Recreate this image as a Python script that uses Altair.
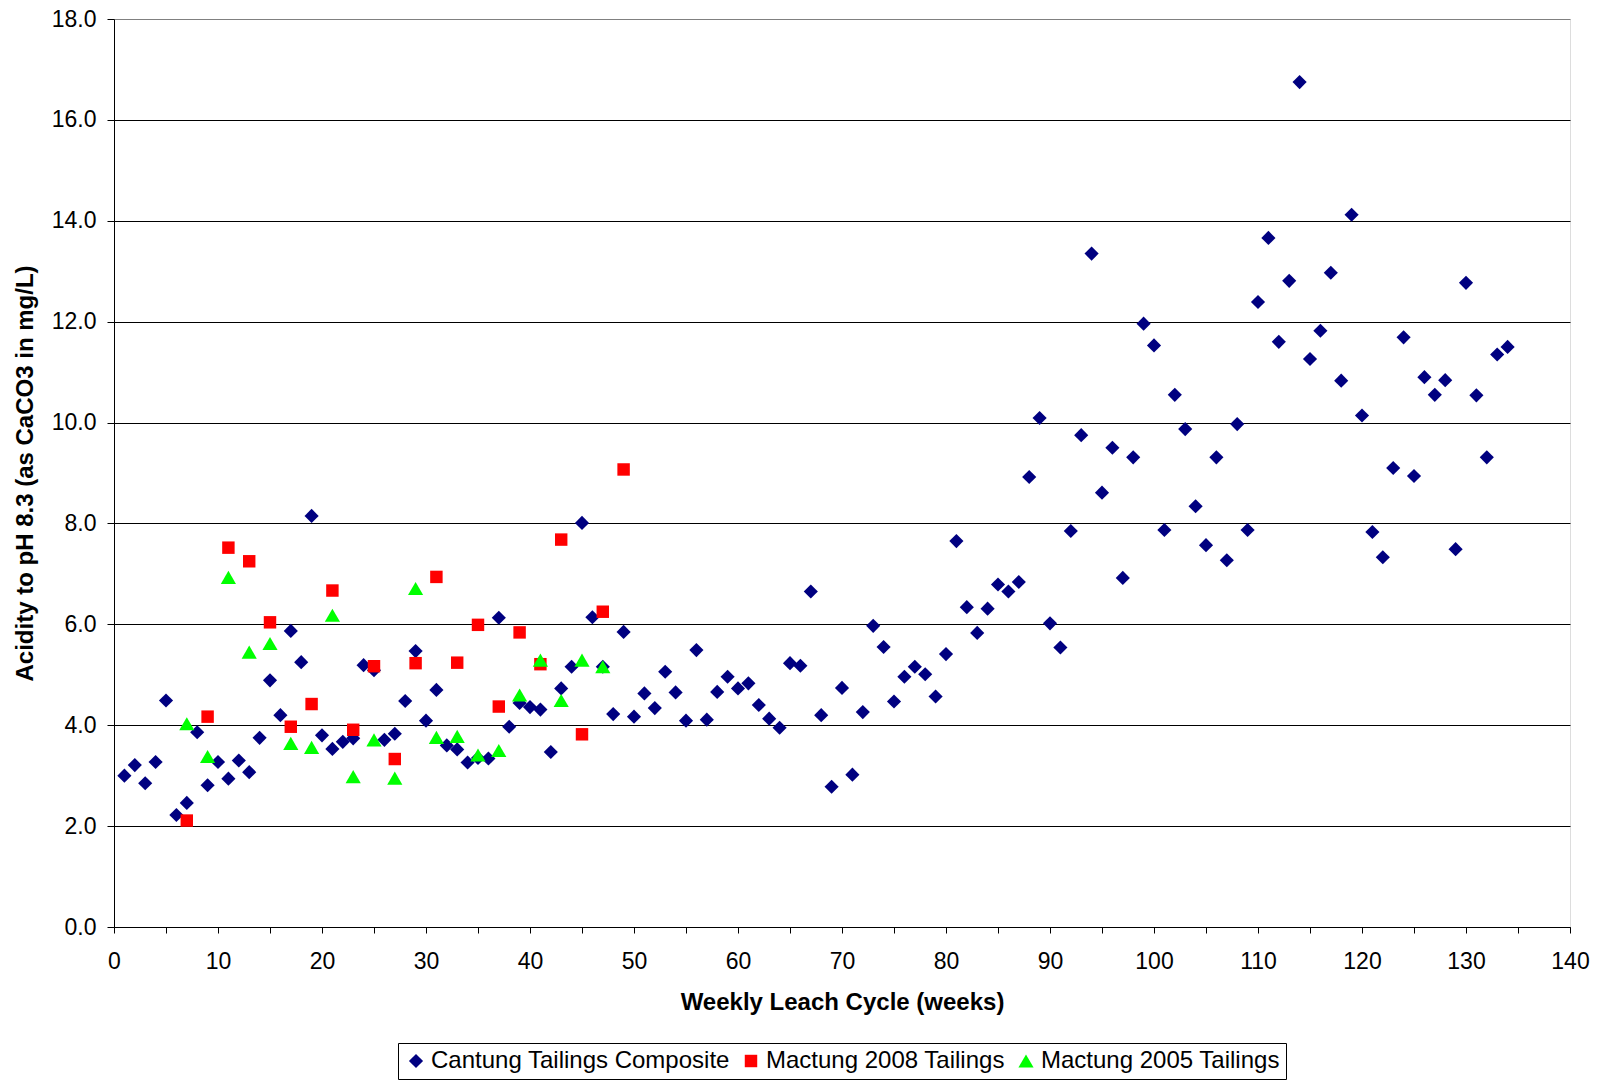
import altair as alt
import pandas as pd

# ---- data ----
cantung_weeks = [
    1, 2, 3, 4, 5, 6, 7, 8, 9, 10, 11, 12, 13, 14, 15, 16, 17, 18, 19, 20,
    21, 22, 23, 24, 25, 26, 27, 28, 29, 30, 31, 32, 33, 34, 35, 36, 37, 38, 39, 40,
    41, 42, 43, 44, 45, 46, 47, 48, 49, 50, 51, 52, 53, 54, 55, 56, 57, 58, 59, 60,
    61, 62, 63, 64, 65, 66, 67, 68, 69, 70, 71, 72, 73, 74, 75, 76, 77, 78, 79, 80,
    81, 82, 83, 84, 85, 86, 87, 88, 89, 90, 91, 92, 93, 94, 95, 96, 97, 98, 99, 100,
    101, 102, 103, 104, 105, 106, 107, 108, 109, 110, 111, 112, 113, 114, 115, 116, 117, 118, 119, 120,
    121, 122, 123, 124, 125, 126, 127, 128, 129, 130, 131, 132, 133, 134,
]
cantung_vals = [
    3.00, 3.21, 2.85, 3.27, 4.49, 2.22, 2.46, 3.86, 2.81, 3.27,
    2.94, 3.30, 3.07, 3.75, 4.89, 4.20, 5.87, 5.25, 8.15, 3.80,
    3.53, 3.67, 3.74, 5.19, 5.09, 3.71, 3.83, 4.48, 5.47, 4.09,
    4.70, 3.60, 3.52, 3.26, 3.35, 3.34, 6.13, 3.97, 4.44, 4.36,
    4.31, 3.47, 4.73, 5.16, 8.01, 6.14, 5.16, 4.22, 5.85, 4.17,
    4.63, 4.34, 5.06, 4.65, 4.09, 5.49, 4.11, 4.66, 4.96, 4.73,
    4.83, 4.40, 4.13, 3.95, 5.23, 5.18, 6.65, 4.20, 2.78, 4.74,
    3.02, 4.26, 5.97, 5.55, 4.47, 4.96, 5.16, 5.01, 4.57, 5.41,
    7.65, 6.34, 5.83, 6.31, 6.79, 6.65, 6.84, 8.92, 10.09, 6.02,
    5.54, 7.85, 9.75, 13.35, 8.61, 9.50, 6.92, 9.31, 11.96, 11.53,
    7.87, 10.55, 9.87, 8.34, 7.57, 9.31, 7.27, 9.97, 7.87, 12.39,
    13.66, 11.60, 12.81, 16.75, 11.26, 11.82, 12.97, 10.83, 14.12, 10.14,
    7.83, 7.33, 9.10, 11.69, 8.94, 10.90, 10.55, 10.84, 7.49, 12.77,
    10.54, 9.31, 11.35, 11.50,
]

mac2008_weeks = [7, 9, 11, 13, 15, 17, 19, 21, 23, 25, 27, 29, 31, 33, 35, 37, 39, 41, 43, 45, 47, 49]
mac2008_vals = [2.11, 4.17, 7.52, 7.25, 6.04, 3.97, 4.42, 6.67, 3.91, 5.17, 3.33,
                5.23, 6.94, 5.24, 5.99, 4.37, 5.84, 5.21, 7.68, 3.82, 6.25, 9.07]

mac2005_weeks = [7, 9, 11, 13, 15, 17, 19, 21, 23, 25, 27, 29, 31, 33, 35, 37, 39, 41, 43, 45, 47]
mac2005_vals = [4.03, 3.38, 6.93, 5.45, 5.62, 3.64, 3.56, 6.18, 2.98, 3.71, 2.95,
                6.71, 3.76, 3.78, 3.41, 3.50, 4.60, 5.29, 4.49, 5.29, 5.16]

series_names = ["Cantung Tailings Composite", "Mactung 2008 Tailings", "Mactung 2005 Tailings"]
series_colors = ["#000080", "#FF0000", "#00FF00"]
series_shapes = ["diamond", "square", "triangle-up"]
series_sizes = [200, 155, 230]

x_ticks = [0, 5, 10, 15, 20, 25, 30, 35, 40, 45, 50, 55, 60, 65, 70, 75, 80, 85, 90,
           95, 100, 105, 110, 115, 120, 125, 130, 135, 140]
y_ticks = [0, 2, 4, 6, 8, 10, 12, 14, 16, 18]

rows = []
for w, v in zip(cantung_weeks, cantung_vals):
    rows.append({"week": w, "value": v, "series": series_names[0], "order": 0})
for w, v in zip(mac2008_weeks, mac2008_vals):
    rows.append({"week": w, "value": v, "series": series_names[1], "order": 1})
for w, v in zip(mac2005_weeks, mac2005_vals):
    rows.append({"week": w, "value": v, "series": series_names[2], "order": 2})
df = pd.DataFrame(rows)

FONT = "Liberation Sans"

legend = alt.Legend(
    title=None,
    orient="none",
    legendX=284,
    legendY=1024,
    direction="horizontal",
    strokeColor="black",
    fillColor="white",
    padding=6,
    labelFontSize=24,
    labelFont=FONT,
    labelColor="black",
    labelLimit=600,
    symbolSize=110,
    labelOffset=3,
    columnPadding=9,
    symbolStrokeWidth=0,
)

chart = (
    alt.Chart(df)
    .mark_point(filled=True, opacity=1, strokeWidth=0)
    .encode(
        x=alt.X(
            "week:Q",
            scale=alt.Scale(domain=[0, 140], nice=False, zero=True),
            axis=alt.Axis(
                title="Weekly Leach Cycle (weeks)",
                values=x_ticks,
                labelExpr="datum.value % 10 == 0 ? datum.label : ''",
                grid=False,
                tickSize=6,
                tickColor="black",
                domainColor="black",
                labelFontSize=23,
                labelPadding=17,
                labelColor="black",
                labelFont=FONT,
                titleFont=FONT,
                titleFontSize=24,
                titleFontWeight="bold",
                titleColor="black",
                titleY=75,
                titleBaseline="middle",
                labelFlush=False,
                labelOverlap=False,
            ),
        ),
        y=alt.Y(
            "value:Q",
            scale=alt.Scale(domain=[0, 18], nice=False, zero=True),
            axis=alt.Axis(
                title="Acidity to pH 8.3 (as CaCO3 in mg/L)",
                values=y_ticks,
                format=".1f",
                grid=True,
                gridColor=alt.condition("datum.value == 18", alt.value("#808080"), alt.value("black")),
                gridWidth=1,
                gridOpacity=1,
                tickSize=7,
                tickColor="black",
                domainColor="black",
                labelFontSize=23,
                labelPadding=11,
                labelColor="black",
                labelFont=FONT,
                titleFont=FONT,
                titleFontSize=24,
                titleFontWeight="bold",
                titleColor="black",
                titleAngle=270,
                titleX=-89,
                titleY=454,
                titleAlign="center",
                titleBaseline="middle",
                labelFlush=False,
                labelOverlap=False,
            ),
        ),
        color=alt.Color(
            "series:N",
            scale=alt.Scale(domain=series_names, range=series_colors),
            legend=legend,
        ),
        shape=alt.Shape(
            "series:N",
            scale=alt.Scale(domain=series_names, range=series_shapes),
            legend=legend,
        ),
        size=alt.Size(
            "series:N",
            scale=alt.Scale(type="ordinal", domain=series_names, range=series_sizes),
            legend=None,
        ),
        order=alt.Order("order:Q"),
    )
    .properties(
        width=1456,
        height=908,
        autosize=alt.AutoSizeParams(type="none"),
        padding={"left": 114, "top": 19, "right": 29, "bottom": 153},
    )
    .configure_view(stroke="#808080", strokeWidth=1)
    .configure(background="white", font=FONT)
)

chart.save("out.html", embed_options={"renderer": "svg", "actions": False})
